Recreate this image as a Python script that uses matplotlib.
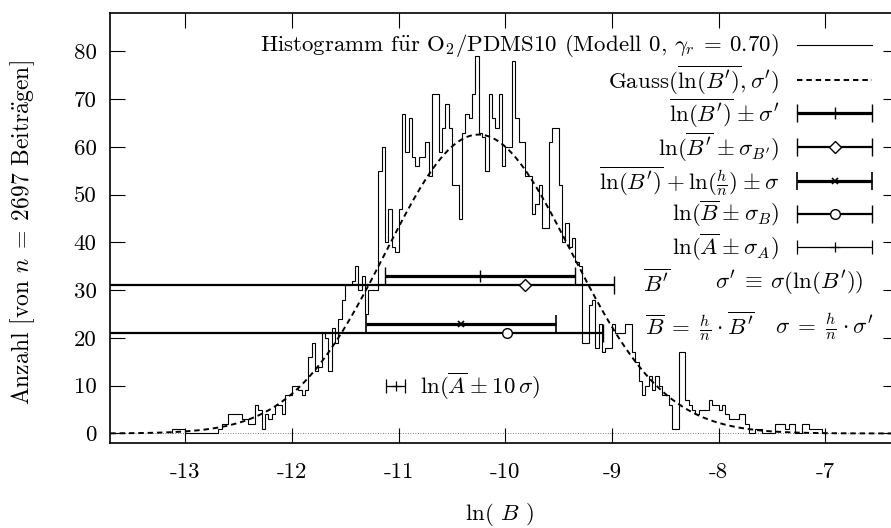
import numpy as np
import matplotlib
matplotlib.use("Agg")
import matplotlib.pyplot as plt

plt.rcParams['font.family'] = ['cmr10', 'DejaVu Serif']
plt.rcParams['mathtext.fontset'] = 'cm'
plt.rcParams['axes.unicode_minus'] = False
plt.rcParams['axes.formatter.use_mathtext'] = True
FS = 16.5
plt.rcParams['font.size'] = FS

# ---------------- data ----------------
bin_start = -13.125
bin_width = 1.0 / 32
counts = [1, 1, 1, 1, 0, 0, 0, 0, 0, 0,
          0, 0, 0, 0, 1, 2, 2, 4, 4, 4,
          4, 3, 3, 2, 2, 6, 5, 1, 4, 3,
          4, 6, 6, 4, 8, 8, 10, 10, 9, 8,
          9, 16, 19, 13, 14, 21, 20, 13, 22, 19,
          24, 28, 31, 31, 32, 35, 30, 33, 25, 30,
          30, 30, 55, 60, 40, 47, 39, 38, 47, 67,
          59, 66, 58, 56, 58, 58, 61, 54, 71, 71,
          59, 64, 69, 64, 52, 52, 45, 63, 67, 66,
          71, 79, 63, 62, 55, 71, 66, 64, 71, 56,
          60, 60, 78, 66, 61, 61, 54, 54, 46, 48,
          52, 43, 43, 61, 64, 64, 52, 40, 44, 39,
          41, 36, 35, 19, 19, 27, 28, 18, 23, 17,
          18, 18, 23, 21, 21, 21, 23, 23, 17, 15,
          11, 8, 10, 12, 9, 12, 10, 8, 8, 6,
          1, 1, 17, 17, 7, 6, 5, 4, 5, 5,
          5, 7, 6, 6, 5, 6, 4, 3, 3, 3,
          4, 4, 2, 0, 0, 1, 1, 0, 0, 0,
          0, 2, 2, 2, 1, 2, 2, 0, 0, 2,
          2, 1, 1, 1, 1]

gauss_mean = -10.25
gauss_sigma = 0.87
gauss_peak = 62.6

bar_y = [33, 31, 23, 21]
bar_center = [-10.238, -9.815, -10.41, -9.982]
bar_low = [-11.128, -20.0, -11.30, -20.0]
bar_high = [-9.347, -8.98, -9.52, -9.083]

a_y = 10
a_center = -11.025
a_low = -11.113
a_high = -10.94

x_ticks = [-13, -12, -11, -10, -9, -8, -7]
x_tick_labels = ['-13', '-12', '-11', '-10', '-9', '-8', '-7']
y_ticks = [0, 10, 20, 30, 40, 50, 60, 70, 80]
y_tick_labels = ['0', '10', '20', '30', '40', '50', '60', '70', '80']

legend_labels = [
    r"Histogramm f$\ddot{\mathrm{u}}$r O$_2$/PDMS10 (Modell 0, $\gamma_r\:=\:0.70$)",
    r"Gauss($\overline{\ln(B^\prime)}, \sigma^\prime$)",
    r"$\overline{\ln(B^\prime)}\:\pm\:\sigma^\prime$",
    r"$\ln(\overline{B^\prime}\:\pm\:\sigma_{B^\prime})$",
    r"$\overline{\ln(B^\prime)}\:+\:\ln(\frac{h}{n})\:\pm\:\sigma$",
    r"$\ln(\overline{B}\:\pm\:\sigma_B)$",
    r"$\ln(\overline{A}\:\pm\:\sigma_A)$",
]
note_row1 = [r"$\overline{B^\prime}$", r"$\sigma^\prime\:\equiv\:\sigma(\ln(B^\prime))$"]
note_row2 = [r"$\overline{B}\;=\;\frac{h}{n}\:\cdot\:\overline{B^\prime}$",
             r"$\sigma\;=\;\frac{h}{n}\:\cdot\:\sigma^\prime$"]
a_label = r"$\ln(\overline{A}\:\pm\:10\,\sigma)$"
x_label = r"ln( $B$ )"
y_label = r"Anzahl [von $n\;=\;2697$ Beitr$\ddot{\mathrm{a}}$gen]"

# ---------------- styles ----------------
bar_styles = [
    dict(fmt='+', color='black', elinewidth=2.3, capthick=2.3, capsize=6.2, ms=9, mew=1.0),
    dict(fmt='D', color='black', elinewidth=1.6, capthick=1.6, capsize=6.2, ms=6, mew=1.0, mfc='white'),
    dict(fmt='x', color='black', elinewidth=2.3, capthick=2.3, capsize=6.2, ms=5, mew=1.2),
    dict(fmt='o', color='black', elinewidth=1.6, capthick=1.6, capsize=6.2, ms=7, mew=1.0, mfc='white'),
]
a_style = dict(fmt='+', color='black', elinewidth=0.9, capthick=0.9, capsize=5.2, ms=7, mew=0.9)

fig = plt.figure(figsize=(8.91, 5.28), dpi=100)
ax = fig.add_axes([0.1238, 0.161, 0.8841, 0.8138])
ax.set_xlim(-13.70, -6.32)
ax.set_ylim(-2, 88)

# zero axis
ax.axhline(0, color='#555555', lw=0.6, ls=(0, (1, 2)), zorder=1)

# histogram
edges = bin_start + bin_width * np.arange(len(counts) + 1)
ax.stairs(counts, edges, color='black', lw=0.8, zorder=3)

# gauss
xg = np.linspace(-13.70, -6.32, 600)
yg = gauss_peak * np.exp(-0.5 * ((xg - gauss_mean) / gauss_sigma) ** 2)
ax.plot(xg, yg, color='black', lw=1.4, ls=(0, (2.8, 2.0)), zorder=4)

# error bars
for y, c, lo, hi, st in zip(bar_y, bar_center, bar_low, bar_high, bar_styles):
    ax.errorbar([c], [y], xerr=[[c - lo], [hi - c]], zorder=5, **st)

ax.errorbar([a_center], [a_y], xerr=[[a_center - a_low], [a_high - a_center]], zorder=5, **a_style)
ax.text(-10.80, a_y, a_label, ha='left', va='center', fontsize=FS)

# manual gnuplot-style key
def a2d(fx, fy):
    return ax.transData.inverted().transform(ax.transAxes.transform((fx, fy)))

key_text_x = 0.849
key_x0, key_x1 = 0.8718, 0.9670
key_rows = [0.926, 0.845, 0.768, 0.689, 0.610, 0.533, 0.456]
for lab, fy in zip(legend_labels, key_rows):
    ax.text(key_text_x, fy, lab, transform=ax.transAxes, ha='right', va='center', fontsize=FS)

ax.plot([key_x0, key_x1], [key_rows[0]] * 2, transform=ax.transAxes, color='black', lw=0.8)
ax.plot([key_x0, key_x1], [key_rows[1]] * 2, transform=ax.transAxes, color='black', lw=1.4,
        ls=(0, (2.8, 2.0)))
for fy, st in zip(key_rows[2:6], bar_styles):
    (dx0, dy), (dx1, _) = a2d(key_x0, fy), a2d(key_x1, fy)
    xc = 0.5 * (dx0 + dx1)
    ax.errorbar([xc], [dy], xerr=[[xc - dx0], [dx1 - xc]], **st)
(dx0, dy), (dx1, _) = a2d(key_x0, key_rows[6]), a2d(key_x1, key_rows[6])
xc = 0.5 * (dx0 + dx1)
ax.errorbar([xc], [dy], xerr=[[xc - dx0], [dx1 - xc]], **a_style)

ax.text(0.676, 0.372, note_row1[0], transform=ax.transAxes, ha='left', va='center', fontsize=FS)
ax.text(0.7676, 0.372, note_row1[1], transform=ax.transAxes, ha='left', va='center', fontsize=FS)
ax.text(0.679, 0.2707, note_row2[0], transform=ax.transAxes, ha='left', va='center', fontsize=FS)
ax.text(0.8438, 0.2707, note_row2[1], transform=ax.transAxes, ha='left', va='center', fontsize=FS)

# axes styling
ax.set_xticks(x_ticks)
ax.set_xticklabels(x_tick_labels)
ax.set_yticks(y_ticks)
ax.set_yticklabels(y_tick_labels)
ax.tick_params(direction='in', length=10.8, width=0.8, top=True, right=True, labelsize=FS)
ax.tick_params(axis='x', pad=14)
ax.tick_params(axis='y', pad=10)
for sp in ax.spines.values():
    sp.set_linewidth(1.2)

fig.text(500 / 891, 1 - 515 / 528, x_label, ha='center', va='center', fontsize=FS)
fig.text(23 / 891, 1 - 233 / 528, y_label, ha='center', va='center', rotation=90, fontsize=17)

fig.savefig('out.png', dpi=100)
